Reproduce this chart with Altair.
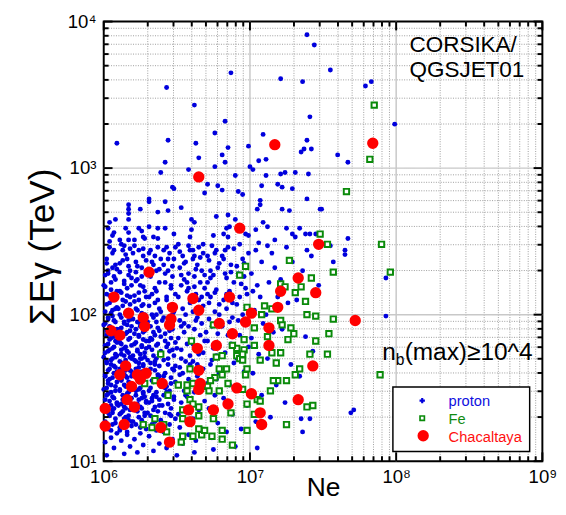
import altair as alt
import pandas as pd

# ---------------- data: (log10 Ne, log10 SumE_gamma [TeV]) ----------------
chacaltaya_log = [
    (6.31, 2.29), (6.07, 2.12), (6.61, 2.11), (6.86, 2.12), (6.65, 2.03), (6.47, 2.05), (6.17, 2.01),
    (6.27, 1.98), (6.46, 1.97), (6.28, 1.92), (6.45, 1.93), (6.05, 1.89), (6.11, 1.86), (6.79, 1.94),
    (6.97, 1.95), (7.01, 2.01), (7.21, 2.16), (7.33, 2.25), (7.19, 2.05), (7.13, 1.91), (6.88, 1.87),
    (6.64, 1.77), (6.77, 1.79), (7.13, 1.79), (7.47, 2.48), (7.45, 2.15), (7.43, 1.65), (6.15, 1.65),
    (6.11, 1.59), (6.23, 1.59), (6.29, 1.60), (6.19, 1.51), (6.25, 1.56), (6.40, 1.53), (6.65, 1.62),
    (6.66, 1.53), (6.65, 1.49), (6.91, 1.50), (7.01, 1.46), (6.16, 1.42), (6.21, 1.37), (6.01, 1.36),
    (6.58, 1.35), (6.75, 1.35), (6.85, 1.39), (7.07, 1.33), (6.59, 1.27), (7.33, 1.42), (6.01, 1.24),
    (6.14, 1.25), (6.39, 1.23), (7.08, 1.25), (6.45, 1.13), (7.17, 3.16), (6.65, 2.94), (6.93, 2.59),
    (7.84, 3.17), (7.72, 1.96),
]

fe_log = [
    (7.85, 3.43), (7.82, 3.06), (7.66, 2.84), (7.48, 2.55), (7.53, 2.48), (7.90, 2.48), (7.57, 2.29),
    (7.96, 2.29), (7.57, 1.97), (7.54, 1.87), (7.53, 1.73), (7.89, 1.59), (7.39, 1.37), (7.43, 1.38),
    (7.27, 2.37), (7.42, 2.25), (6.93, 2.27), (6.97, 2.33), (7.35, 2.19), (7.31, 2.15), (7.21, 2.21),
    (7.24, 2.19), (7.38, 2.09), (7.10, 2.06), (7.15, 2.04), (6.98, 2.05), (7.08, 2.00), (7.03, 1.91),
    (7.21, 1.96), (7.22, 1.93), (7.28, 1.91), (7.30, 1.87), (7.26, 1.83), (7.39, 2.00), (7.45, 1.99),
    (7.45, 1.82), (7.12, 1.85), (6.96, 1.83), (7.03, 1.79), (6.96, 1.76), (6.91, 1.77), (6.88, 1.79),
    (6.75, 1.93), (6.60, 1.82), (6.39, 1.73), (6.77, 1.71), (6.81, 1.72), (6.91, 1.72), (6.93, 1.70),
    (6.95, 1.69), (6.95, 1.73), (7.07, 1.69), (7.15, 1.74), (7.18, 1.67), (7.21, 1.74), (7.41, 1.73),
    (7.34, 1.63), (7.31, 1.59), (7.19, 1.55), (7.25, 1.55), (7.16, 1.55), (6.98, 1.63), (6.97, 1.59),
    (6.84, 1.63), (6.79, 1.63), (6.81, 1.59), (6.76, 1.57), (6.73, 1.55), (6.71, 1.51), (6.72, 1.48),
    (6.79, 1.48), (6.85, 1.53), (6.95, 1.49), (7.14, 1.48), (6.59, 1.63), (6.61, 1.53), (6.57, 1.52),
    (6.57, 1.48), (6.51, 1.52), (6.44, 1.45), (6.35, 1.55), (6.28, 1.53), (6.59, 1.42), (6.61, 1.39),
    (6.65, 1.37), (6.54, 1.35), (6.54, 1.29), (6.65, 1.31), (6.75, 1.29), (6.87, 1.33), (6.98, 1.39),
    (7.05, 1.42), (7.07, 1.41), (6.98, 1.21), (7.03, 1.32), (7.25, 1.25), (6.81, 1.21), (6.88, 1.11),
    (6.81, 1.15), (6.74, 1.17), (6.67, 1.18), (6.61, 1.17), (6.65, 1.22), (6.69, 1.21), (6.54, 1.17),
    (6.53, 1.13), (6.35, 1.29), (6.27, 1.25), (6.33, 1.23), (6.43, 1.20), (6.41, 1.25),
]

proton_log_upper = [
    (7.39, 3.91), (7.44, 3.84), (6.87, 3.65), (7.21, 3.61), (7.36, 3.59), (6.43, 3.55), (6.62, 3.43),
    (7.41, 3.35), (6.83, 3.32), (6.76, 3.24), (6.09, 3.17), (6.44, 3.19), (6.63, 3.17), (7.09, 3.23),
    (7.39, 3.19), (7.37, 3.13), (7.35, 3.11), (7.42, 3.13), (6.99, 3.15), (6.85, 3.14), (6.81, 3.09),
    (6.65, 3.07), (6.83, 3.04), (7.11, 3.06), (7.06, 3.05), (6.42, 3.04), (6.76, 3.01), (6.58, 2.99),
    (7.00, 3.01), (7.02, 2.99), (6.39, 2.97), (6.90, 2.95), (7.21, 2.96), (7.24, 2.97), (7.11, 2.95),
    (7.31, 2.97), (7.40, 2.96), (6.71, 2.89), (6.47, 2.87), (6.48, 2.86), (6.78, 2.88), (7.08, 2.88),
    (7.19, 2.89), (7.22, 2.87), (6.69, 2.83), (6.81, 2.85), (6.92, 2.84), (6.95, 2.82), (7.29, 2.86),
    (6.31, 2.79), (7.07, 2.78), (7.39, 2.79), (6.17, 2.75), (6.31, 2.77), (7.07, 2.75), (6.42, 2.77),
    (6.17, 2.72), (6.17, 2.69), (6.25, 2.72), (6.37, 2.70), (6.44, 2.71), (6.53, 2.73), (7.05, 2.72),
    (7.22, 2.72), (7.27, 2.71), (7.48, 2.72), (6.85, 2.68), (6.77, 2.67), (6.17, 2.65), (6.08, 2.65),
    (6.04, 2.63), (6.60, 2.65), (6.62, 2.63), (6.90, 2.65), (7.09, 2.63), (6.03, 2.59), (6.15, 2.59),
    (6.24, 2.59), (6.26, 2.57), (6.31, 2.60), (6.37, 2.59), (6.42, 2.59), (6.60, 2.58), (6.84, 2.59),
    (6.86, 2.60), (7.04, 2.58), (7.12, 2.60), (7.25, 2.59), (7.34, 2.59), (6.07, 2.56), (6.06, 2.54),
    (6.17, 2.56), (6.27, 2.53), (6.34, 2.53), (6.37, 2.52), (6.48, 2.55), (6.59, 2.53), (6.75, 2.54),
    (6.82, 2.55), (6.85, 2.53), (6.97, 2.55), (6.99, 2.54), (7.29, 2.55), (7.31, 2.53), (7.38, 2.55),
    (7.41, 2.55), (7.45, 2.55), (6.11, 2.51), (6.17, 2.51), (6.21, 2.51), (6.28, 2.52), (7.17, 2.51),
    (7.55, 3.67), (7.79, 3.56), (7.83, 3.59), (7.99, 3.30), (7.60, 3.09), (7.67, 3.04), (7.49, 2.72),
    (7.67, 2.52), (7.55, 2.47), (7.65, 2.44), (7.65, 2.41), (7.57, 2.36), (7.93, 2.25), (7.93, 1.99),
    (7.69, 1.33), (7.71, 1.35), (7.36, 1.20), (7.41, 1.29), (7.35, 1.29),
]

proton_log_c60 = [
    (6.02, 1.04), (6.07, 1.09), (6.01, 1.13), (6.05, 1.16), (6.09, 1.19), (6.03, 1.22), (6.06, 1.25),
    (6.01, 1.27), (6.08, 1.29), (6.04, 1.31), (6.02, 1.34), (6.07, 1.36), (6.05, 1.38), (6.09, 1.40),
    (6.01, 1.42), (6.06, 1.44), (6.03, 1.46), (6.08, 1.48), (6.02, 1.50), (6.05, 1.52), (6.09, 1.54),
    (6.04, 1.56), (6.01, 1.58), (6.07, 1.60), (6.03, 1.62), (6.08, 1.64), (6.05, 1.66), (6.02, 1.68),
    (6.06, 1.70), (6.09, 1.72), (6.01, 1.74), (6.04, 1.76), (6.07, 1.78), (6.03, 1.80), (6.08, 1.82),
    (6.05, 1.84), (6.02, 1.86), (6.06, 1.88), (6.09, 1.90), (6.04, 1.92), (6.01, 1.94), (6.07, 1.96),
    (6.03, 1.98), (6.05, 2.01), (6.08, 2.04), (6.02, 2.07), (6.06, 2.10), (6.04, 2.13), (6.09, 2.16),
    (6.01, 2.19), (6.05, 2.22), (6.07, 2.26), (6.03, 2.30), (6.08, 2.34), (6.02, 2.38), (6.06, 2.42),
    (6.04, 2.46), (6.06, 1.33), (6.03, 1.53), (6.08, 1.71), (6.04, 1.87), (6.06, 2.03),
    (6.05, 1.21), (6.00, 1.24), (6.08, 1.26), (6.03, 1.33), (6.06, 1.35), (6.01, 1.37), (6.09, 1.39),
    (6.04, 1.41), (6.07, 1.43), (6.02, 1.45), (6.05, 1.47), (6.00, 1.49), (6.08, 1.51), (6.03, 1.55),
    (6.06, 1.57), (6.01, 1.59), (6.09, 1.61), (6.04, 1.63), (6.07, 1.65), (6.02, 1.67), (6.05, 1.69),
    (6.00, 1.71), (6.08, 1.73), (6.03, 1.75), (6.06, 1.77), (6.01, 1.79), (6.09, 1.81), (6.04, 1.83),
    (6.07, 1.85), (6.02, 1.89), (6.05, 1.91), (6.00, 1.93), (6.08, 1.95), (6.03, 1.97), (6.06, 1.99),
    (6.01, 2.02), (6.09, 2.05), (6.04, 2.08), (6.07, 2.11), (6.02, 2.14), (6.05, 2.17), (6.00, 2.20),
    (6.08, 2.24), (6.03, 2.28), (6.06, 2.32),
]

proton_log_c61 = [
    (6.14, 1.05), (6.18, 1.10), (6.12, 1.14), (6.16, 1.18), (6.11, 1.21), (6.19, 1.24), (6.13, 1.26),
    (6.17, 1.28), (6.15, 1.30), (6.11, 1.32), (6.18, 1.35), (6.14, 1.37), (6.12, 1.39), (6.16, 1.41),
    (6.19, 1.43), (6.13, 1.45), (6.17, 1.47), (6.11, 1.49), (6.15, 1.51), (6.18, 1.53), (6.12, 1.55),
    (6.16, 1.57), (6.14, 1.59), (6.19, 1.61), (6.11, 1.63), (6.17, 1.65), (6.13, 1.67), (6.15, 1.69),
    (6.18, 1.71), (6.12, 1.73), (6.16, 1.75), (6.14, 1.77), (6.19, 1.79), (6.11, 1.81), (6.17, 1.83),
    (6.13, 1.85), (6.15, 1.87), (6.18, 1.89), (6.12, 1.91), (6.16, 1.93), (6.14, 1.95), (6.19, 1.97),
    (6.11, 2.00), (6.17, 2.03), (6.13, 2.06), (6.15, 2.09), (6.18, 2.12), (6.12, 2.15), (6.16, 2.18),
    (6.14, 2.21), (6.19, 2.25), (6.11, 2.29), (6.17, 2.33), (6.13, 2.37), (6.15, 2.41), (6.18, 2.45),
    (6.12, 2.48), (6.16, 1.46), (6.19, 1.58), (6.12, 1.80), (6.15, 1.62), (6.13, 1.34),
    (6.16, 1.20), (6.11, 1.23), (6.19, 1.27), (6.14, 1.29), (6.17, 1.31), (6.12, 1.33), (6.15, 1.36),
    (6.10, 1.38), (6.18, 1.40), (6.13, 1.42), (6.16, 1.44), (6.11, 1.48), (6.19, 1.50), (6.14, 1.52),
    (6.17, 1.54), (6.12, 1.56), (6.15, 1.58), (6.10, 1.60), (6.18, 1.62), (6.13, 1.64), (6.16, 1.66),
    (6.11, 1.68), (6.19, 1.70), (6.14, 1.72), (6.17, 1.74), (6.12, 1.76), (6.15, 1.78), (6.10, 1.82),
    (6.18, 1.84), (6.13, 1.86), (6.16, 1.88), (6.11, 1.90), (6.19, 1.92), (6.14, 1.94), (6.17, 1.96),
    (6.12, 1.98), (6.15, 2.01), (6.10, 2.04), (6.18, 2.07), (6.13, 2.10), (6.16, 2.13), (6.11, 2.16),
    (6.19, 2.20), (6.14, 2.23), (6.17, 2.27),
]

proton_log_c62 = [
    (6.23, 1.06), (6.27, 1.11), (6.21, 1.15), (6.25, 1.19), (6.29, 1.22), (6.22, 1.25), (6.26, 1.28),
    (6.24, 1.30), (6.28, 1.33), (6.21, 1.35), (6.25, 1.37), (6.23, 1.39), (6.29, 1.41), (6.26, 1.43),
    (6.22, 1.45), (6.27, 1.47), (6.24, 1.49), (6.21, 1.51), (6.28, 1.53), (6.25, 1.55), (6.23, 1.57),
    (6.29, 1.59), (6.26, 1.61), (6.22, 1.63), (6.27, 1.65), (6.24, 1.67), (6.21, 1.69), (6.28, 1.71),
    (6.25, 1.73), (6.23, 1.75), (6.29, 1.77), (6.26, 1.79), (6.22, 1.81), (6.27, 1.83), (6.24, 1.85),
    (6.21, 1.87), (6.28, 1.89), (6.25, 1.92), (6.23, 1.95), (6.29, 1.98), (6.26, 2.01), (6.22, 2.04),
    (6.27, 2.07), (6.24, 2.10), (6.21, 2.13), (6.28, 2.16), (6.25, 2.20), (6.23, 2.24), (6.29, 2.28),
    (6.26, 2.32), (6.22, 2.36), (6.27, 2.40), (6.24, 2.44), (6.21, 2.47), (6.28, 1.44), (6.22, 1.58),
    (6.26, 1.70), (6.24, 1.54),
    (6.25, 1.23), (6.20, 1.27), (6.28, 1.31), (6.23, 1.34), (6.26, 1.36), (6.21, 1.38), (6.29, 1.40),
    (6.24, 1.42), (6.27, 1.46), (6.22, 1.48), (6.25, 1.50), (6.20, 1.52), (6.28, 1.54), (6.23, 1.56),
    (6.26, 1.58), (6.21, 1.60), (6.29, 1.62), (6.24, 1.64), (6.27, 1.66), (6.22, 1.68), (6.25, 1.70),
    (6.20, 1.72), (6.28, 1.74), (6.23, 1.76), (6.26, 1.78), (6.21, 1.80), (6.29, 1.82), (6.24, 1.86),
    (6.27, 1.88), (6.22, 1.90), (6.25, 1.94), (6.20, 1.97), (6.28, 2.00), (6.23, 2.03), (6.26, 2.06),
    (6.21, 2.09), (6.29, 2.12), (6.24, 2.15), (6.27, 2.19), (6.22, 2.23),
]

proton_log_c63_64 = [
    (6.34, 1.07), (6.38, 1.12), (6.31, 1.17), (6.36, 1.21), (6.33, 1.25), (6.39, 1.28), (6.32, 1.31),
    (6.37, 1.34), (6.35, 1.37), (6.31, 1.40), (6.38, 1.42), (6.34, 1.45), (6.36, 1.47), (6.32, 1.50),
    (6.39, 1.52), (6.33, 1.55), (6.37, 1.57), (6.31, 1.60), (6.35, 1.62), (6.38, 1.65), (6.32, 1.67),
    (6.36, 1.70), (6.34, 1.72), (6.39, 1.75), (6.31, 1.78), (6.37, 1.80), (6.33, 1.83), (6.35, 1.86),
    (6.38, 1.89), (6.32, 1.92), (6.36, 1.95), (6.34, 1.98), (6.39, 2.02), (6.31, 2.06), (6.37, 2.10),
    (6.33, 2.14), (6.35, 2.18), (6.38, 2.22), (6.32, 2.26), (6.36, 2.30), (6.34, 2.34), (6.39, 2.38),
    (6.31, 2.42), (6.37, 2.46), (6.33, 1.43), (6.38, 1.58), (6.35, 1.68), (6.32, 1.84), (6.36, 2.00),
    (6.34, 1.35),
    (6.35, 1.27), (6.30, 1.33), (6.38, 1.38), (6.33, 1.41), (6.36, 1.44), (6.31, 1.48), (6.39, 1.51),
    (6.34, 1.54), (6.37, 1.59), (6.32, 1.63), (6.35, 1.66), (6.30, 1.69), (6.38, 1.73), (6.33, 1.76),
    (6.36, 1.79), (6.31, 1.82), (6.39, 1.85), (6.34, 1.88), (6.37, 1.91), (6.30, 1.95), (6.33, 2.00),
    (6.38, 2.04), (6.35, 2.08), (6.31, 2.12), (6.36, 2.16),
    (6.43, 1.09), (6.47, 1.15), (6.41, 1.20), (6.45, 1.25), (6.49, 1.29), (6.42, 1.33), (6.46, 1.36),
    (6.44, 1.39), (6.48, 1.42), (6.41, 1.45), (6.45, 1.48), (6.43, 1.51), (6.49, 1.54), (6.46, 1.57),
    (6.42, 1.60), (6.47, 1.63), (6.44, 1.66), (6.41, 1.69), (6.48, 1.72), (6.45, 1.75), (6.43, 1.78),
    (6.49, 1.81), (6.46, 1.84), (6.42, 1.87), (6.47, 1.90), (6.44, 1.94), (6.41, 1.98), (6.48, 2.02),
    (6.45, 2.06), (6.43, 2.10), (6.49, 2.14), (6.46, 2.18), (6.42, 2.22), (6.47, 2.26), (6.44, 2.30),
    (6.41, 2.34), (6.48, 2.38), (6.45, 2.42), (6.43, 2.46), (6.46, 1.31), (6.42, 1.50), (6.48, 1.62),
    (6.44, 1.80), (6.47, 2.00),
    (6.45, 1.32), (6.40, 1.38), (6.48, 1.44), (6.43, 1.47), (6.46, 1.53), (6.41, 1.58), (6.49, 1.65),
    (6.44, 1.70), (6.47, 1.76), (6.42, 1.82), (6.45, 1.89), (6.40, 1.96), (6.48, 2.04), (6.43, 2.12),
    (6.46, 2.20),
]

proton_log_c65_69 = [
    (6.54, 1.12), (6.58, 1.18), (6.52, 1.23), (6.56, 1.28), (6.51, 1.32), (6.59, 1.36), (6.53, 1.40),
    (6.57, 1.44), (6.55, 1.48), (6.51, 1.52), (6.58, 1.56), (6.54, 1.60), (6.52, 1.64), (6.56, 1.68),
    (6.59, 1.72), (6.53, 1.76), (6.57, 1.80), (6.51, 1.84), (6.55, 1.88), (6.58, 1.92), (6.52, 1.96),
    (6.56, 2.00), (6.54, 2.04), (6.59, 2.08), (6.51, 2.12), (6.57, 2.16), (6.53, 2.20), (6.55, 2.24),
    (6.58, 2.28), (6.52, 2.32), (6.56, 2.36), (6.54, 2.40), (6.59, 2.44), (6.51, 2.48), (6.57, 1.50),
    (6.53, 1.70), (6.55, 1.94), (6.58, 2.18),
    (6.63, 1.14), (6.67, 1.22), (6.61, 1.29), (6.65, 1.35), (6.69, 1.41), (6.62, 1.47), (6.66, 1.53),
    (6.64, 1.58), (6.68, 1.63), (6.61, 1.68), (6.65, 1.73), (6.63, 1.78), (6.69, 1.82), (6.66, 1.86),
    (6.62, 1.90), (6.67, 1.94), (6.64, 1.98), (6.61, 2.02), (6.68, 2.06), (6.65, 2.10), (6.63, 2.14),
    (6.69, 2.18), (6.66, 2.22), (6.62, 2.26), (6.67, 2.30), (6.64, 2.34), (6.61, 2.38), (6.68, 2.42),
    (6.65, 2.46), (6.63, 1.96), (6.67, 2.12), (6.62, 2.40),
    (6.74, 1.16), (6.78, 1.26), (6.72, 1.36), (6.76, 1.45), (6.71, 1.53), (6.79, 1.60), (6.73, 1.66),
    (6.77, 1.72), (6.75, 1.77), (6.71, 1.82), (6.78, 1.87), (6.74, 1.92), (6.72, 1.97), (6.76, 2.02),
    (6.79, 2.07), (6.73, 2.12), (6.77, 2.17), (6.71, 2.22), (6.75, 2.27), (6.78, 2.32), (6.72, 2.37),
    (6.76, 2.42), (6.74, 2.47), (6.79, 2.00), (6.73, 2.30), (6.77, 1.56), (6.71, 2.14),
    (6.84, 1.20), (6.88, 1.32), (6.82, 1.43), (6.86, 1.52), (6.81, 1.60), (6.89, 1.67), (6.83, 1.74),
    (6.87, 1.80), (6.85, 1.86), (6.81, 1.92), (6.88, 1.98), (6.84, 2.04), (6.82, 2.10), (6.86, 2.16),
    (6.89, 2.22), (6.83, 2.28), (6.87, 2.34), (6.81, 2.40), (6.85, 2.46), (6.88, 2.08), (6.83, 2.44),
    (6.86, 1.95), (6.84, 2.25),
    (6.94, 1.22), (6.98, 1.38), (6.92, 1.50), (6.96, 1.61), (6.91, 1.70), (6.99, 1.78), (6.93, 1.86),
    (6.97, 1.93), (6.95, 2.00), (6.91, 2.07), (6.98, 2.14), (6.94, 2.21), (6.92, 2.28), (6.96, 2.35),
    (6.99, 2.42), (6.93, 2.48), (6.97, 2.18), (6.95, 2.38), (6.92, 1.96),
]

proton_log_c70_75 = [
    (7.04, 1.27), (7.08, 1.45), (7.02, 1.60), (7.06, 1.73), (7.01, 1.84), (7.09, 1.94), (7.03, 2.03),
    (7.07, 2.12), (7.05, 2.20), (7.01, 2.28), (7.08, 2.36), (7.04, 2.44), (7.06, 2.49), (7.02, 2.16),
    (7.14, 1.30), (7.18, 1.52), (7.12, 1.70), (7.16, 1.88), (7.11, 2.00), (7.19, 2.12), (7.13, 2.22),
    (7.17, 2.32), (7.15, 2.42), (7.12, 2.47),
    (7.24, 1.40), (7.28, 1.66), (7.22, 1.90), (7.26, 2.08), (7.21, 2.24), (7.29, 2.36), (7.25, 2.46),
    (7.34, 1.58), (7.38, 1.85), (7.32, 2.10), (7.36, 2.30), (7.39, 2.44),
    (7.43, 1.75), (7.47, 2.20), (7.42, 2.40),
    (6.50, 1.04), (6.62, 1.06), (6.75, 1.08), (6.90, 1.10), (7.05, 1.09),
]

proton_log_extra = [
    (6.02, 2.35), (6.07, 2.44), (6.04, 2.50), (6.09, 2.31), (6.01, 2.27), (6.13, 2.44), (6.16, 2.38),
    (6.11, 2.35), (6.18, 2.30), (6.14, 2.47), (6.20, 2.42), (6.23, 2.33), (6.27, 2.45), (6.29, 2.37),
    (6.22, 2.29), (6.26, 2.26), (6.32, 2.44), (6.35, 2.40), (6.38, 2.31), (6.33, 2.36), (6.30, 2.28),
    (6.41, 2.44), (6.44, 2.38), (6.47, 2.33), (6.49, 2.46), (6.42, 2.28), (6.52, 2.43), (6.55, 2.35),
    (6.58, 2.47), (6.53, 2.27), (6.57, 2.22), (6.61, 2.44), (6.63, 2.31), (6.66, 2.39), (6.69, 2.27),
    (6.62, 2.19), (6.68, 2.48), (6.71, 2.40), (6.73, 2.25), (6.77, 2.44), (6.72, 2.08), (6.76, 2.15),
    (6.79, 2.35), (6.82, 2.38), (6.87, 2.29), (6.84, 2.14), (6.89, 2.45), (6.91, 2.33), (6.96, 2.26),
    (6.93, 2.12), (6.52, 1.59), (6.56, 1.45), (6.50, 1.77), (6.59, 1.66), (6.53, 1.92), (6.61, 1.80),
    (6.64, 1.66), (6.68, 1.74), (6.70, 1.88), (6.74, 1.69),
]

x_major = [1000000, 10000000, 100000000, 1000000000]
x_minor = [m * 10 ** k for k in (6, 7, 8) for m in range(2, 10)]
y_major = [10, 100, 1000, 10000]
y_minor = [m * 10 ** k for k in (1, 2, 3) for m in range(2, 10)]

legend_labels = ["proton", "Fe", "Chacaltaya"]
legend_colors = ["#1010e0", "#108a10", "#ff1010"]

W, H = 449, 450
FONT = "Liberation Sans"


def to_df(pairs):
    df = pd.DataFrame(pairs, columns=["lx", "ly"])
    df["Ne"] = 10 ** df["lx"]
    df["E"] = 10 ** df["ly"]
    return df


proton_df = to_df(proton_log_upper + proton_log_c60 + proton_log_c61 + proton_log_c62
                  + proton_log_c63_64 + proton_log_c65_69 + proton_log_c70_75 + proton_log_extra)
fe_df = to_df(fe_log)
cha_df = to_df(chacaltaya_log)

xscale = alt.Scale(type="log", domain=[1e6, 1e9], nice=False)
yscale = alt.Scale(type="log", domain=[10, 1e4], nice=False)

x_axis = alt.Axis(
    values=x_major, grid=False, ticks=False, domain=False,
    labelExpr="datum.value == 1000000 ? '10⁶' : datum.value == 10000000 ? '10⁷' : "
              "datum.value == 100000000 ? '10⁸' : datum.value == 1000000000 ? '10⁹' : ''",
    labelFlush=False, labelOverlap=False, labelFont=FONT, labelFontSize=19,
    labelColor="black", labelPadding=7,
    title="Ne", titleFont=FONT, titleFontSize=27, titleFontWeight="normal", titleColor="black",
    titleBaseline="alphabetic", titleAlign="center", titleX=W / 2, titleY=35,
)
y_axis = alt.Axis(
    values=y_major, grid=False, ticks=False, domain=False,
    labelExpr="datum.value == 10 ? '10¹' : datum.value == 100 ? '10²' : "
              "datum.value == 1000 ? '10³' : datum.value == 10000 ? '10⁴' : ''",
    labelFlush=False, labelOverlap=False, labelFont=FONT, labelFontSize=19,
    labelColor="black", labelPadding=8,
    title="ΣEγ (TeV)", titleFont=FONT, titleFontSize=36, titleFontWeight="normal",
    titleColor="black", titleAngle=270, titleBaseline="middle", titleAlign="center",
    titleX=-62, titleY=230,
)


def X(field):
    return alt.X(f"{field}:Q", scale=xscale, axis=x_axis)


def Y(field):
    return alt.Y(f"{field}:Q", scale=yscale, axis=y_axis)


# grid lines (major solid, minor dotted)
def xgrid(vals, color, dash, width):
    return alt.Chart(pd.DataFrame({"v": vals})).mark_rule(
        color=color, strokeDash=dash, strokeWidth=width
    ).encode(x=X("v"), y=alt.value(0), y2=alt.value(H))


def ygrid(vals, color, dash, width):
    return alt.Chart(pd.DataFrame({"v": vals})).mark_rule(
        color=color, strokeDash=dash, strokeWidth=width
    ).encode(y=Y("v"), x=alt.value(0), x2=alt.value(W))


grids = [
    xgrid(x_minor, "#9c9c9c", [1, 1.5], 1), ygrid(y_minor, "#9c9c9c", [1, 1.5], 1),
    xgrid(x_major[1:3], "#c8c8c8", [1, 0], 1.5), ygrid(y_major[1:3], "#c8c8c8", [1, 0], 1.5),
]

proton = alt.Chart(proton_df).mark_point(
    shape="circle", filled=True, size=25, color="#0000dd", opacity=1
).encode(x=X("Ne"), y=Y("E"))

fe = alt.Chart(fe_df).mark_point(
    shape="square", filled=True, fill="white", stroke="#0a8a0a", strokeWidth=2, size=30, opacity=1
).encode(x=X("Ne"), y=Y("E"))

cha = alt.Chart(cha_df).mark_point(
    shape="circle", filled=True, size=135, color="#ff0000", opacity=1
).encode(x=X("Ne"), y=Y("E"))


def xticks(vals, y1, y2):
    return alt.Chart(pd.DataFrame({"v": vals})).mark_rule(color="black", strokeWidth=2).encode(
        x=X("v"), y=alt.value(y1), y2=alt.value(y2))


def yticks(vals, x1, x2):
    return alt.Chart(pd.DataFrame({"v": vals})).mark_rule(color="black", strokeWidth=2).encode(
        y=Y("v"), x=alt.value(x1), x2=alt.value(x2))


ticks = [
    xticks(x_major, H, H - 9), xticks(x_minor, H, H - 5),
    xticks(x_major, 0, 9), xticks(x_minor, 0, 5),
    yticks(y_major, 0, 9), yticks(y_minor, 0, 5),
    yticks(y_major, W, W - 9), yticks(y_minor, W, W - 5),
]


def text(t, x, y, size, color="black", align="left", baseline="alphabetic", **kw):
    return alt.Chart(pd.DataFrame({"t": [t]})).mark_text(
        align=align, baseline=baseline, font=FONT, fontSize=size, color=color, **kw
    ).encode(x=alt.value(x), y=alt.value(y), text="t:N")


annotations = [
    text("CORSIKA/", 313, 31, 23),
    text("QGSJET01", 313, 57, 23),
    text("n", 285, 346, 25),
    text("b", 299, 352, 16),
    text("(max)≥10^4", 308, 346, 25),
]

legend_box = alt.Chart(pd.DataFrame({"a": [0]})).mark_rect(
    fill="white", stroke="black", strokeWidth=1.5
).encode(x=alt.value(296), x2=alt.value(436), y=alt.value(374), y2=alt.value(440))

leg_p = alt.Chart(pd.DataFrame({"a": [0]})).mark_point(
    shape="cross", filled=True, size=30, color="#0000dd", opacity=1
).encode(x=alt.value(326), y=alt.value(388))
leg_f = alt.Chart(pd.DataFrame({"a": [0]})).mark_point(
    shape="square", filled=True, fill="white", stroke="#0a8a0a", strokeWidth=1.7, size=20, opacity=1
).encode(x=alt.value(326), y=alt.value(406))
leg_c = alt.Chart(pd.DataFrame({"a": [0]})).mark_point(
    shape="circle", filled=True, size=135, color="#ff0000", opacity=1
).encode(x=alt.value(327), y=alt.value(424))
leg_texts = [text(lbl, 353, 389 + 18 * i, 15, color=c, baseline="middle")
             for i, (lbl, c) in enumerate(zip(legend_labels, legend_colors))]

chart = alt.layer(
    *grids, proton, fe, cha, *ticks, *annotations, legend_box, leg_p, leg_f, leg_c, *leg_texts
).properties(
    width=W, height=H, background="white",
    padding={"left": 98, "top": 8, "right": 16, "bottom": 41},
    autosize=alt.AutoSizeParams(type="none"),
).configure_view(stroke="black", strokeWidth=2)

chart.save("out.html", embed_options={"renderer": "svg", "actions": False})
